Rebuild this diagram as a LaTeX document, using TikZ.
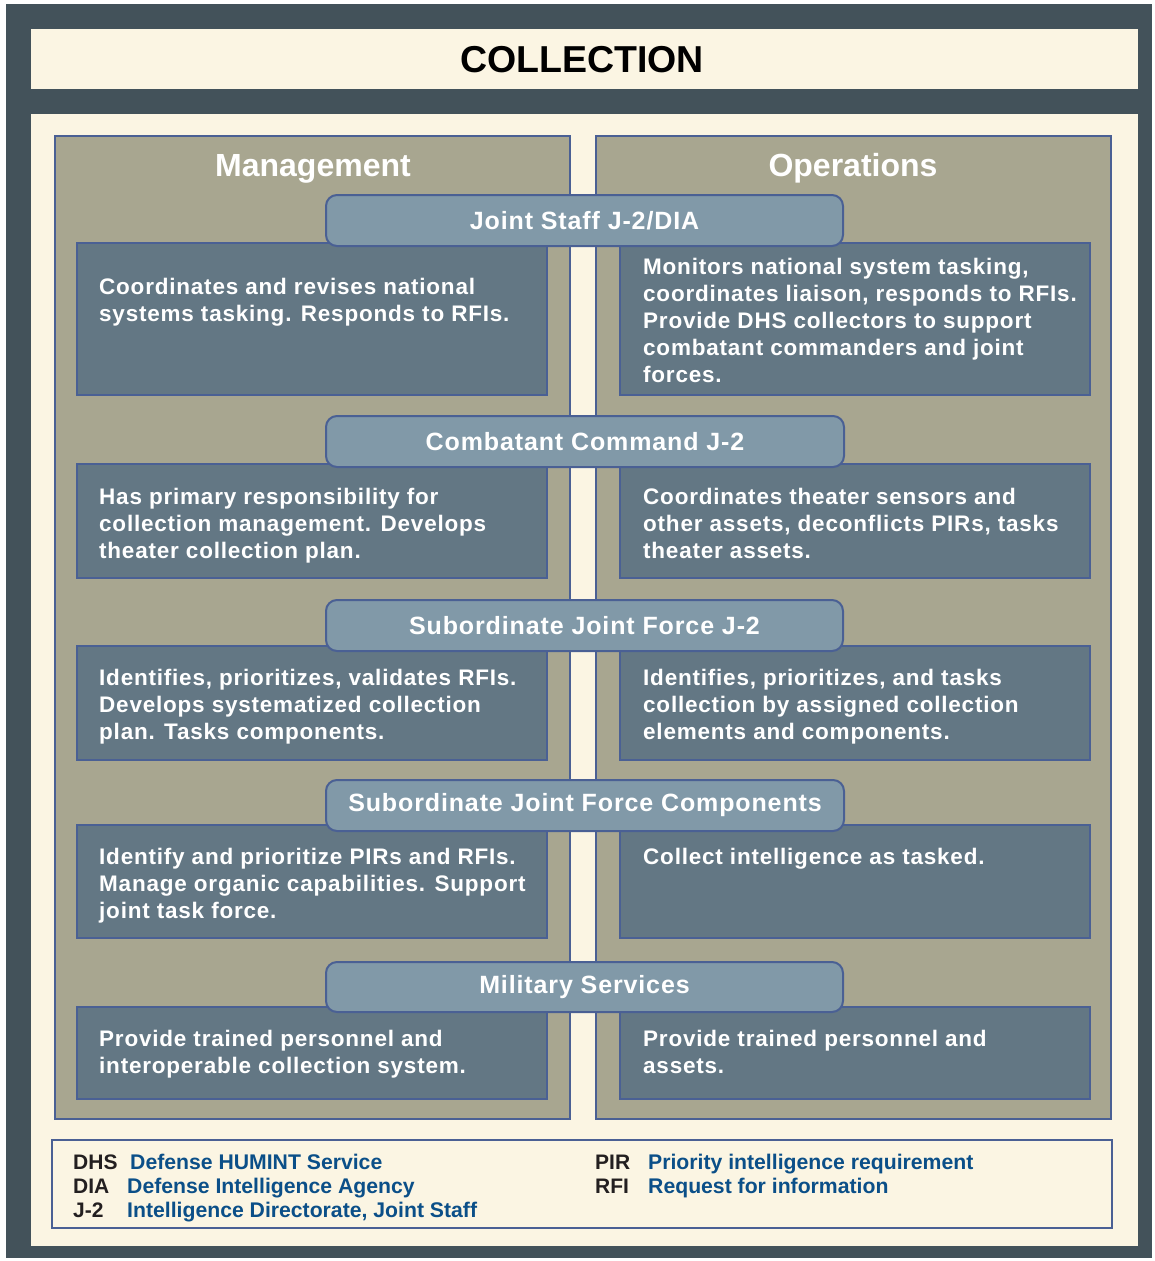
\documentclass[tikz,border=0pt]{standalone}
\usepackage{fontspec}
\setmainfont{Liberation Sans}
\newfontfamily\trackfont[LetterSpace=3.5]{Liberation Sans}
\definecolor{darkc}{HTML}{43525A}
\definecolor{creamc}{HTML}{FBF5E3}
\definecolor{panelc}{HTML}{A8A690}
\definecolor{boxc}{HTML}{637784}
\definecolor{banc}{HTML}{8199A8}
\definecolor{bordc}{HTML}{4A6094}
\definecolor{legblue}{HTML}{0B4F88}
\definecolor{legblack}{HTML}{231F20}
\tikzset{
  panel/.style={fill=panelc,draw=bordc,line width=2pt},
  infobox/.style={fill=boxc,draw=bordc,line width=2pt},
  banner/.style={fill=banc,draw=bordc,line width=2pt,rounded corners=11pt},
  bantxt/.style={text=white,font=\trackfont\bfseries\fontsize{25}{27}\selectfont,inner sep=0pt},
  boxtxt/.style={text=white,font=\trackfont\bfseries\fontsize{22.5}{27}\selectfont,anchor=north west,align=left,inner sep=0pt},
  headtxt/.style={text=white,font=\bfseries\fontsize{32}{34}\selectfont,inner sep=0pt,anchor=base},
  legab/.style={text=legblack,font=\bfseries\fontsize{21}{24}\selectfont,anchor=base west,inner sep=0pt},
  legdef/.style={text=legblue,font=\bfseries\fontsize{21.2}{24}\selectfont,anchor=base west,inner sep=0pt}
}
\begin{document}
\begin{tikzpicture}[x=1pt,y=-1pt]
\useasboundingbox (0,0) rectangle (1154,1261);
% frame
\fill[darkc] (6,4) rectangle (1152,1258);
\fill[creamc] (31,29) rectangle (1138,89);
\fill[creamc] (31,114) rectangle (1138,1246);
\node[font=\bfseries\fontsize{37.5}{40}\selectfont,text=black,inner sep=0pt] (title) at (582,60) {COLLECTION};
% panels
\draw[panel] (55,136) rectangle (570,1119);
\draw[panel] (596,136) rectangle (1111,1119);
\node[headtxt] (mgmt) at (313,176) {Management};
\node[headtxt] (ops) at (853,176) {Operations};
% info boxes
\draw[infobox] (77,243) rectangle (547,395);
\draw[infobox] (620,243) rectangle (1090,395);
\draw[infobox] (77,464) rectangle (547,578);
\draw[infobox] (620,464) rectangle (1090,578);
\draw[infobox] (77,646) rectangle (547,760);
\draw[infobox] (620,646) rectangle (1090,760);
\draw[infobox] (77,825) rectangle (547,938);
\draw[infobox] (620,825) rectangle (1090,938);
\draw[infobox] (77,1007) rectangle (547,1099);
\draw[infobox] (620,1007) rectangle (1090,1099);
% banners
\draw[banner] (326,195) rectangle (843,246);
\node[bantxt] (b1) at (584.5,220.5) {Joint Staff J-2/DIA};
\draw[banner] (326,416) rectangle (844,467);
\node[bantxt] (b2) at (585,441.5) {Combatant Command J-2};
\draw[banner] (326,600) rectangle (843,651);
\node[bantxt] (b3) at (584.5,625.5) {Subordinate Joint Force J-2};
\draw[banner] (326,780) rectangle (844,831);
\node[bantxt] (b4) at (585,805.5) {Subordinate Joint Force Components};
\draw[banner] (326,962) rectangle (843,1012);
\node[bantxt] (b5) at (584.5,987) {Military Services};
% texts
\node[boxtxt] (t1l) at (99,278) {Coordinates and revises national\\systems tasking. Responds to RFIs.};
\node[boxtxt] (t1r) at (643,257.5) {Monitors national system tasking,\\coordinates liaison, responds to RFIs.\\Provide DHS collectors to support\\combatant commanders and joint\\forces.};
\node[boxtxt] (t2l) at (99,488) {Has primary responsibility for\\collection management. Develops\\theater collection plan.};
\node[boxtxt] (t2r) at (643,488) {Coordinates theater sensors and\\other assets, deconflicts PIRs, tasks\\theater assets.};
\node[boxtxt] (t3l) at (99,669) {Identifies, prioritizes, validates RFIs.\\Develops systematized collection\\plan. Tasks components.};
\node[boxtxt] (t3r) at (643,669) {Identifies, prioritizes, and tasks\\collection by assigned collection\\elements and components.};
\node[boxtxt] (t4l) at (99,848) {Identify and prioritize PIRs and RFIs.\\Manage organic capabilities. Support\\joint task force.};
\node[boxtxt] (t4r) at (643,848) {Collect intelligence as tasked.};
\node[boxtxt] (t5l) at (99,1030) {Provide trained personnel and\\interoperable collection system.};
\node[boxtxt] (t5r) at (643,1030) {Provide trained personnel and\\assets.};
% legend
\draw[draw=bordc,line width=2pt,fill=creamc] (52,1140) rectangle (1112,1228);
\node[legab] (a1) at (73,1169) {DHS};
\node[legdef] (d1) at (130,1169) {Defense HUMINT Service};
\node[legab] (a2) at (73,1193) {DIA};
\node[legdef] (d2) at (127,1193) {Defense Intelligence Agency};
\node[legab] (a3) at (73,1217) {J-2};
\node[legdef] (d3) at (127,1217) {Intelligence Directorate, Joint Staff};
\node[legab] (a4) at (595,1169) {PIR};
\node[legdef] (d4) at (648,1169) {Priority intelligence requirement};
\node[legab] (a5) at (595,1193) {RFI};
\node[legdef] (d5) at (648,1193) {Request for information};
\end{tikzpicture}
\end{document}
